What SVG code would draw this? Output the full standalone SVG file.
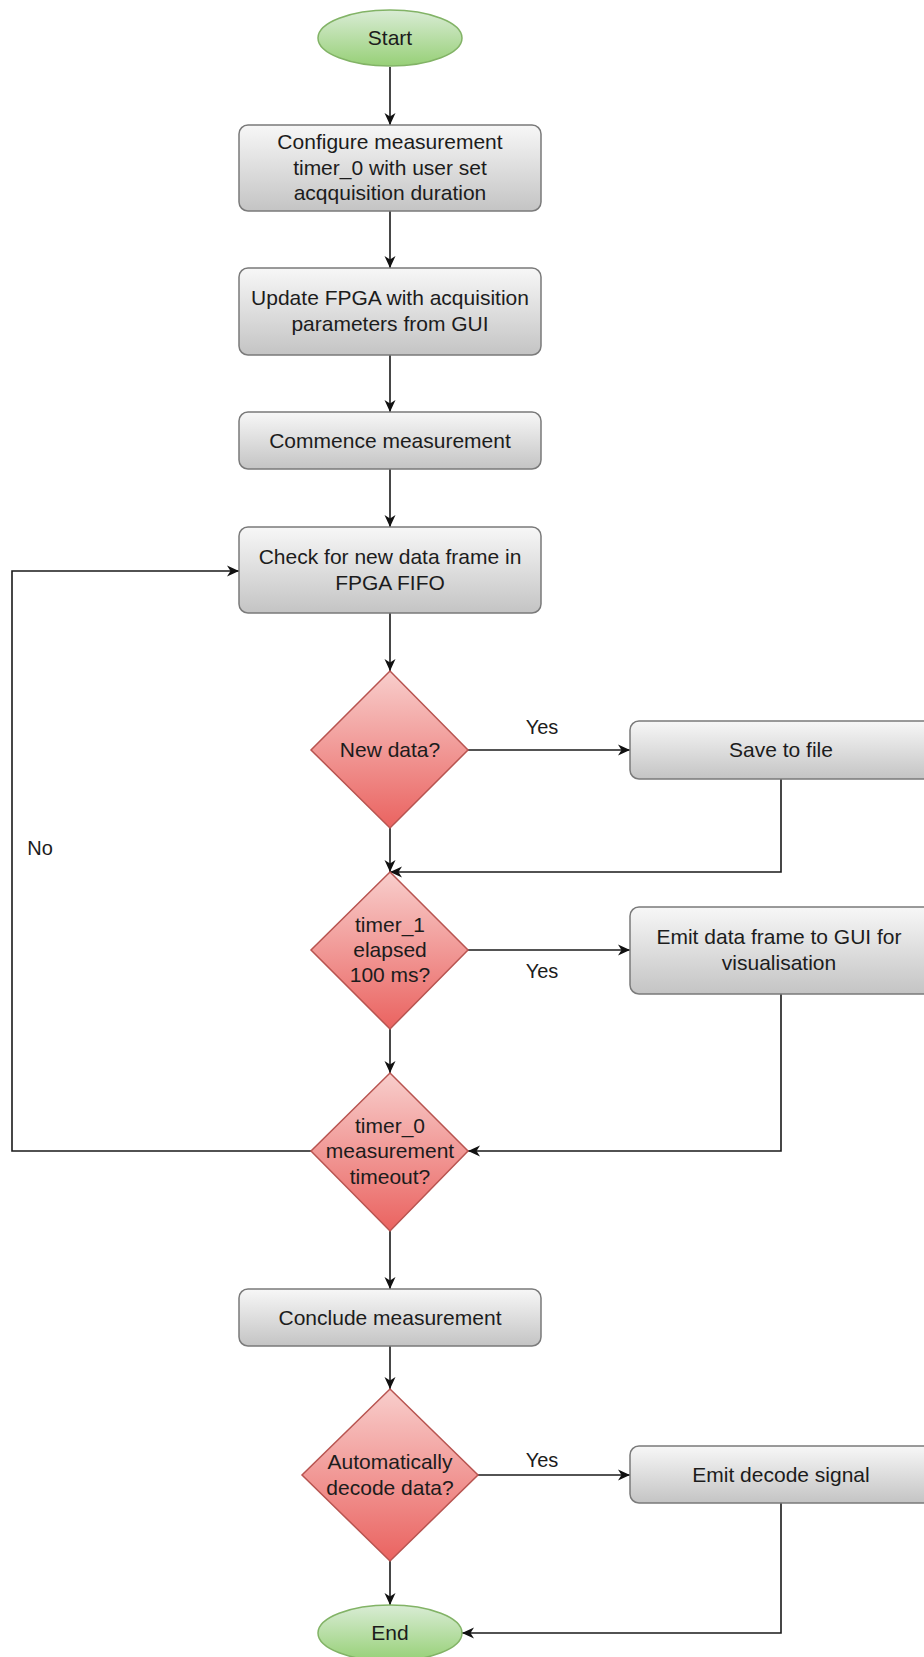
<svg xmlns="http://www.w3.org/2000/svg" width="924" height="1657" viewBox="0 0 924 1657">
<defs>
<linearGradient id="gProc" x1="0" y1="0" x2="0" y2="1"><stop offset="0" stop-color="#f7f7f7"/><stop offset="1" stop-color="#c4c4c4"/></linearGradient>
<linearGradient id="gDec" x1="0" y1="0" x2="0" y2="1"><stop offset="0" stop-color="#f8cecc"/><stop offset="1" stop-color="#ea6360"/></linearGradient>
<linearGradient id="gTerm" x1="0" y1="0" x2="0" y2="1"><stop offset="0" stop-color="#d9ecd5"/><stop offset="1" stop-color="#97d077"/></linearGradient>
<marker id="arr" viewBox="0 0 12 12" refX="12" refY="6" markerWidth="12" markerHeight="12" markerUnits="userSpaceOnUse" orient="auto"><path d="M0,0.5 L12,6 L0,11.5 L3.5,6 Z" fill="#111"/></marker>
</defs>
<style>
.proc{fill:url(#gProc);stroke:#7a7a7a;stroke-width:1.5}
.dec{fill:url(#gDec);stroke:#b85450;stroke-width:1.5}
.term{fill:url(#gTerm);stroke:#82b366;stroke-width:1.5}
text{font-family:"Liberation Sans",Arial,sans-serif;font-size:21px;fill:#1c1c1c;text-anchor:middle}
.lbl{font-size:20px}
.conn path{fill:none;stroke:#1a1a1a;stroke-width:1.6;marker-end:url(#arr)}
</style>
<rect width="924" height="1657" fill="#ffffff"/>
<g class="conn" id="connectors">
<path d="M390,67 V125"/>
<path d="M390,211 V268"/>
<path d="M390,355 V412"/>
<path d="M390,469 V527"/>
<path d="M390,613 V671"/>
<path d="M468,750 H630"/>
<path d="M781,779 V872 H390"/>
<path d="M390,828 V872"/>
<path d="M468,950 H630"/>
<path d="M390,1029 V1073"/>
<path d="M781,994 V1151 H468"/>
<path d="M311,1151 H12 V571 H239"/>
<path d="M390,1231 V1289"/>
<path d="M390,1346 V1389"/>
<path d="M478,1475 H630"/>
<path d="M390,1561 V1605"/>
<path d="M781,1503 V1633 H462"/>
</g>
<g id="edge-labels">
<text x="542" y="734" class="lbl">Yes</text>
<text x="542" y="978" class="lbl">Yes</text>
<text x="542" y="1467" class="lbl">Yes</text>
<text x="40" y="855" class="lbl">No</text>
</g>
<g id="start"><ellipse class="term" cx="390" cy="38" rx="72" ry="28"/><text x="390" y="45">Start</text></g>
<g id="configure"><rect class="proc" x="239" y="125" width="302" height="86" rx="9"/><text x="390" y="149">Configure measurement</text><text x="390" y="175">timer_0 with user set</text><text x="390" y="200">acqquisition duration</text></g>
<g id="update"><rect class="proc" x="239" y="268" width="302" height="87" rx="9"/><text x="390" y="305">Update FPGA with acquisition</text><text x="390" y="331">parameters from GUI</text></g>
<g id="commence"><rect class="proc" x="239" y="412" width="302" height="57" rx="9"/><text x="390" y="448">Commence measurement</text></g>
<g id="check"><rect class="proc" x="239" y="527" width="302" height="86" rx="9"/><text x="390" y="564">Check for new data frame in</text><text x="390" y="590">FPGA FIFO</text></g>
<g id="newdata"><path class="dec" d="M390,671 L468,750 L390,828 L311,750 Z"/><text x="390" y="757">New data?</text></g>
<g id="save"><rect class="proc" x="630" y="721" width="304" height="58" rx="9"/><text x="781" y="757">Save to file</text></g>
<g id="timer1"><path class="dec" d="M390,872 L468,950 L390,1029 L311,950 Z"/><text x="390" y="932">timer_1</text><text x="390" y="957">elapsed</text><text x="390" y="982">100 ms?</text></g>
<g id="emitframe"><rect class="proc" x="630" y="907" width="304" height="87" rx="9"/><text x="779" y="944">Emit data frame to GUI for</text><text x="779" y="970">visualisation</text></g>
<g id="timer0"><path class="dec" d="M390,1073 L468,1151 L390,1231 L311,1151 Z"/><text x="390" y="1133">timer_0</text><text x="390" y="1158">measurement</text><text x="390" y="1184">timeout?</text></g>
<g id="conclude"><rect class="proc" x="239" y="1289" width="302" height="57" rx="9"/><text x="390" y="1325">Conclude measurement</text></g>
<g id="autodecode"><path class="dec" d="M390,1389 L478,1475 L390,1561 L302,1475 Z"/><text x="390" y="1469">Automatically</text><text x="390" y="1495">decode data?</text></g>
<g id="emitdecode"><rect class="proc" x="630" y="1446" width="304" height="57" rx="9"/><text x="781" y="1482">Emit decode signal</text></g>
<g id="end"><ellipse class="term" cx="390" cy="1633" rx="72" ry="28"/><text x="390" y="1640">End</text></g>
</svg>
